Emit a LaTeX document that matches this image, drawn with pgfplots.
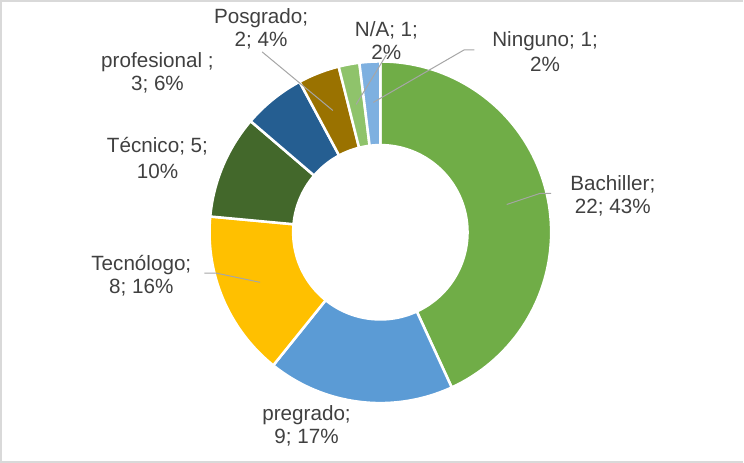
\documentclass[border=0pt]{standalone}
\usepackage{pgfplots}
\pgfplotsset{compat=1.18}
\usepackage{fontspec}
\setmainfont{Liberation Sans}
\definecolor{cBach}{HTML}{70AD47}
\definecolor{cPre}{HTML}{5B9BD5}
\definecolor{cTecn}{HTML}{FFC000}
\definecolor{cTec}{HTML}{43682B}
\definecolor{cProf}{HTML}{255E91}
\definecolor{cPos}{HTML}{9A7200}
\definecolor{cNA}{HTML}{8FC36B}
\definecolor{cNin}{HTML}{7EB0E0}
\definecolor{txt}{HTML}{404040}
\definecolor{lead}{HTML}{A6A6A6}
\definecolor{frame}{HTML}{D9D9D9}
\def\cx{384}\def\cy{233.5}\def\Ro{169}\def\Ri{87.5}
\def\tot{51}
\newcommand\slice[3]{%
 \pgfmathsetmacro\aS{-90+#1*(360/\tot)}%
 \pgfmathsetmacro\aE{-90+(#1+#2)*(360/\tot)}%
 \addplot[fill=#3, draw=white, line width=2.5pt, line join=round, domain=\aS:\aE, samples=80]
   ({\cx+\Ro*cos(x)},{\cy+\Ro*sin(x)}) -- (axis cs:\cx,\cy) -- cycle;
}
\newcommand\lab[4]{% x, y1, line1, line2
 \node[anchor=base, text=txt, font=\fontsize{20.5}{23}\selectfont, inner sep=0pt] at (axis cs:#1,#2) {#3};
}
\begin{document}
\begin{tikzpicture}
\begin{axis}[width=744bp, height=462bp, scale only axis,
  xmin=0, xmax=744, ymin=0, ymax=462, y dir=reverse,
  axis lines=none, clip=false]
\draw[frame, line width=1.6pt] (axis cs:743,4.5) -- (axis cs:8.5,4.5) -- (axis cs:8.5,460.5) -- (axis cs:743,460.5);
\slice{0}{22}{cBach}
\slice{22}{9}{cPre}
\slice{31}{8}{cTecn}
\slice{39}{5}{cTec}
\slice{44}{3}{cProf}
\slice{47}{2}{cPos}
\slice{49}{1}{cNA}
\slice{50}{1}{cNin}
\addplot[fill=white, draw=none, domain=0:360, samples=180]
  ({\cx+\Ri*cos(x)},{\cy+\Ri*sin(x)}) -- cycle;
% leader lines
\draw[lead, line width=1pt] (axis cs:267,55) -- (axis cs:337,113);
\draw[lead, line width=1pt] (axis cs:390,58) -- (axis cs:360,107);
\draw[lead, line width=1pt] (axis cs:477,53) -- (axis cs:467,53) -- (axis cs:377,105);
\draw[lead, line width=1pt] (axis cs:553,195) -- (axis cs:542,195) -- (axis cs:509,206);
\draw[lead, line width=1pt] (axis cs:210,274) -- (axis cs:222,274) -- (axis cs:265,283);
% labels
\lab{266}{27}{Posgrado;}{} \lab{266}{50}{2; 4\%}{}
\lab{390}{40}{N/A; 1;}{} \lab{390}{63}{2\%}{}
\lab{547}{50}{Ninguno; 1;}{} \lab{547}{74}{2\%}{}
\lab{163.5}{70}{profesional ;}{} \lab{163.5}{93}{3; 6\%}{}
\lab{163.5}{155}{Técnico; 5;}{} \lab{163.5}{180}{10\%}{}
\lab{614}{192}{Bachiller;}{} \lab{614}{215}{22; 43\%}{}
\lab{147.5}{271}{Tecnólogo;}{} \lab{147.5}{294}{8; 16\%}{}
\lab{311}{420}{pregrado;}{} \lab{311}{442}{9; 17\%}{}
\end{axis}
\end{tikzpicture}
\end{document}
